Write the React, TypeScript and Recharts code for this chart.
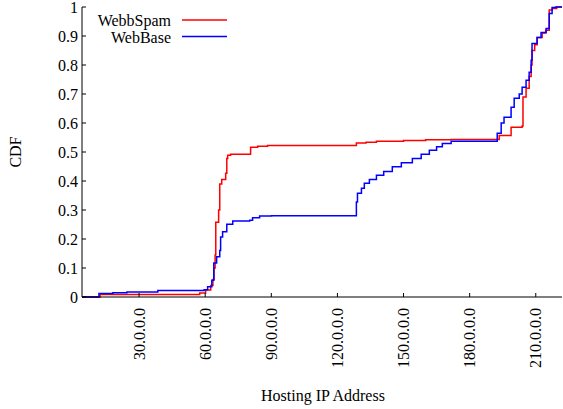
import { Legend, Line, LineChart, XAxis, YAxis } from "recharts";

// first octet of the hosting IP, with the cumulative share
const spamX = [4.1, 12.3, 57.5, 60.2, 62.5, 63.5, 64.0, 64.5, 64.8, 66.1, 66.6, 67.5, 69.3, 69.8, 70.2, 71.5, 80.6, 83.8, 88.3, 128.6, 133, 137.7, 150, 160, 171.6, 193.4, 198.8, 203.8, 204.2, 205.6, 207.0, 207.9, 208.3, 209.5, 210.6, 212.9, 214.5, 216.1, 217.5, 219.5, 221.9];
const spamCdf = [0, 0.009, 0.014, 0.024, 0.04, 0.06, 0.1, 0.145, 0.258, 0.3, 0.39, 0.405, 0.427, 0.478, 0.489, 0.492, 0.516, 0.52, 0.522, 0.531, 0.534, 0.537, 0.54, 0.542, 0.543, 0.557, 0.585, 0.59, 0.69, 0.72, 0.76, 0.8, 0.85, 0.87, 0.895, 0.91, 0.92, 0.99, 0.995, 1, 1];

const baseX = [4.1, 11.8, 18.1, 24.5, 38.5, 59.5, 61.1, 63.0, 63.9, 65.2, 66.6, 67.0, 67.9, 69.8, 72.5, 80.2, 81.5, 84.7, 90.1, 128.6, 129.1, 130.9, 132.2, 134.5, 137.7, 141, 144.9, 149, 154, 158, 161.7, 165, 167.6, 171.6, 192.5, 194.3, 195.6, 198.8, 200.2, 202.5, 203.8, 205.6, 207.0, 207.9, 208.3, 210.6, 212.4, 214.7, 216.1, 217.4, 219, 221.9];
const baseCdf = [0, 0.012, 0.015, 0.017, 0.022, 0.025, 0.035, 0.058, 0.117, 0.139, 0.16, 0.207, 0.225, 0.251, 0.262, 0.265, 0.273, 0.279, 0.28, 0.328, 0.358, 0.375, 0.392, 0.405, 0.42, 0.433, 0.449, 0.463, 0.478, 0.492, 0.506, 0.518, 0.529, 0.537, 0.565, 0.6, 0.62, 0.654, 0.685, 0.7, 0.723, 0.747, 0.775, 0.816, 0.874, 0.895, 0.912, 0.926, 0.978, 0.998, 1, 1];

const seriesNames = ["WebbSpam", "WebBase"];
const ipTicks = [30, 60, 90, 120, 150, 180, 210];
const cdfTicks = [0, 0.1, 0.2, 0.3, 0.4, 0.5, 0.6, 0.7, 0.8, 0.9, 1];

const spam = spamX.map((x, i) => ({ x, cdf: spamCdf[i] }));
const base = baseX.map((x, i) => ({ x, cdf: baseCdf[i] }));

const FONT = "'Liberation Serif', 'DejaVu Serif', serif";
const ipDomain: [number, number] = [4.1, 221.9];

function IpTick(props: any) {
  const { x, y, payload } = props;
  return (
    <text
      transform={`translate(${x + 5.5},${y + 7}) rotate(-90)`}
      textAnchor="end"
      fontFamily={FONT}
      fontSize={16}
      fill="#000"
    >
      {`${payload.value}.0.0.0`}
    </text>
  );
}

function LegendBox(props: any) {
  const items = [...(props.payload ?? [])].sort(
    (a: any, b: any) => seriesNames.indexOf(a.value) - seriesNames.indexOf(b.value)
  );
  return (
    <svg width={563} height={50} style={{ display: "block" }}>
      {items.map((p: any, i: number) => (
        <g key={p.value}>
          <text x={171} y={26 + i * 16.5} textAnchor="end" fontFamily={FONT} fontSize={16} fill="#000">
            {p.value}
          </text>
          <line x1={182} x2={227} y1={20 + i * 16.5} y2={20 + i * 16.5} stroke={p.color} strokeWidth={1.5} />
        </g>
      ))}
    </svg>
  );
}

const noTick = () => <g />;

export default function App() {
  return (
    <div style={{ position: "absolute", left: 0, top: 0, background: "#fff" }}>
      <LineChart width={563} height={409} margin={{ top: 7, right: 1, bottom: 0, left: 0 }}>
        <XAxis
          xAxisId="bottom"
          type="number"
          dataKey="x"
          domain={ipDomain}
          allowDataOverflow
          ticks={ipTicks}
          interval={0}
          height={112}
          tick={<IpTick />}
          tickSize={-4}
          tickMargin={8}
          stroke="#000"
          label={{
            content: () => (
              <text x={323} y={401} textAnchor="middle" fontFamily={FONT} fontSize={16} fill="#000">
                Hosting IP Address
              </text>
            ),
          }}
        />
        <XAxis
          xAxisId="top"
          orientation="top"
          type="number"
          dataKey="x"
          domain={ipDomain}
          allowDataOverflow
          ticks={ipTicks}
          interval={0}
          height={0}
          tick={noTick}
          tickSize={-4}
          stroke="#000"
        />
        <YAxis
          yAxisId="left"
          type="number"
          domain={[0, 1]}
          ticks={cdfTicks}
          interval={0}
          width={82}
          tickSize={-4}
          tickMargin={8}
          stroke="#000"
          tick={{ fontFamily: FONT, fontSize: 16, fill: "#000" }}
          tickFormatter={(v: number) => String(v)}
          label={{
            content: () => (
              <text
                x={21}
                y={152}
                transform="rotate(-90 21 152)"
                textAnchor="middle"
                fontFamily={FONT}
                fontSize={16}
                fill="#000"
              >
                CDF
              </text>
            ),
          }}
        />
        <YAxis
          yAxisId="right"
          orientation="right"
          type="number"
          domain={[0, 1]}
          ticks={cdfTicks}
          interval={0}
          width={0}
          tick={noTick}
          tickSize={-4}
          stroke="#000"
        />
        <Legend
          layout="horizontal"
          verticalAlign="middle"
          align="center"
          wrapperStyle={{ position: "absolute", left: 0, top: 0, width: 563, height: 50 }}
          content={<LegendBox />}
        />
        <Line
          xAxisId="bottom"
          yAxisId="left"
          data={spam}
          dataKey="cdf"
          name="WebbSpam"
          type="stepAfter"
          stroke="#ff0000"
          strokeWidth={1.5}
          dot={false}
          isAnimationActive={false}
        />
        <Line
          xAxisId="bottom"
          yAxisId="left"
          data={base}
          dataKey="cdf"
          name="WebBase"
          type="stepAfter"
          stroke="#0000ff"
          strokeWidth={1.5}
          dot={false}
          isAnimationActive={false}
        />
      </LineChart>
    </div>
  );
}
